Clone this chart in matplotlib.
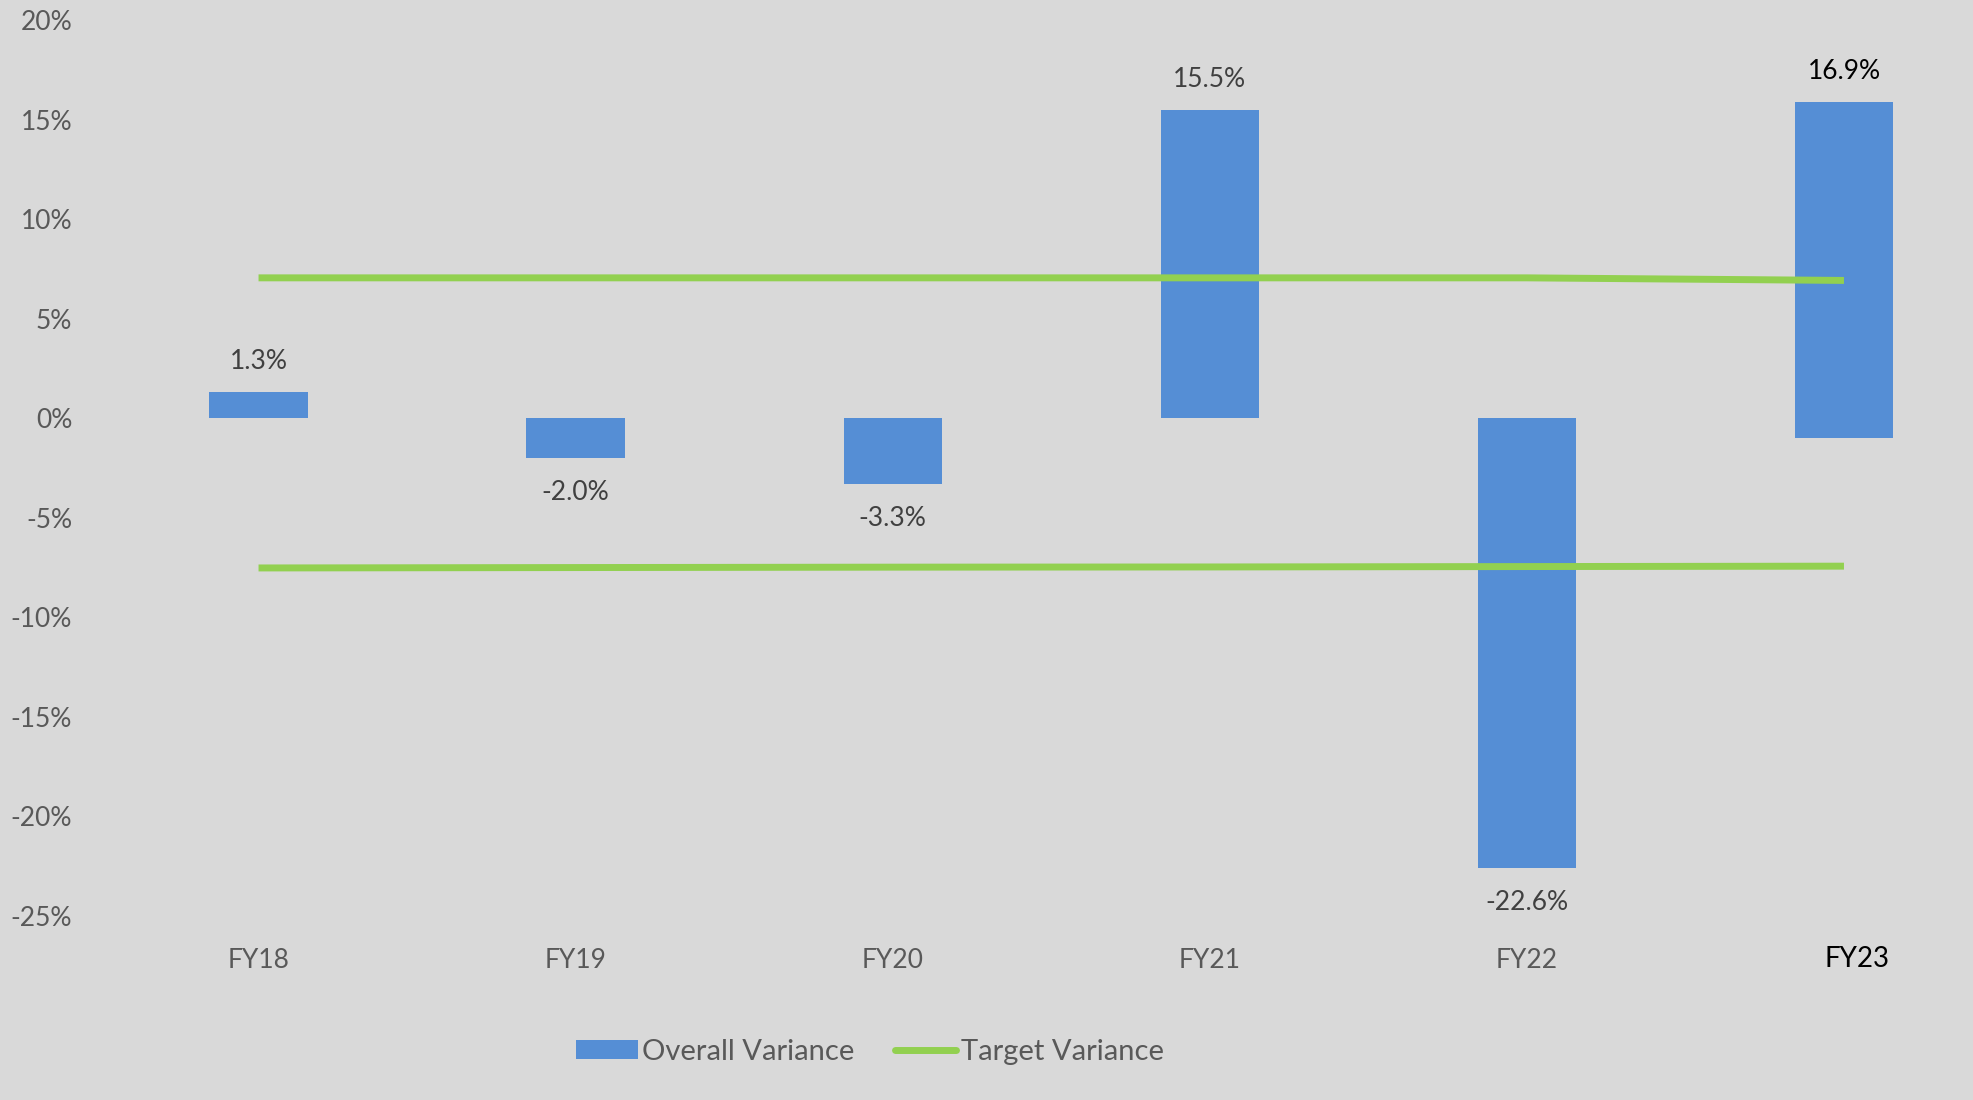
import matplotlib.pyplot as plt
from matplotlib.lines import Line2D
from matplotlib.patches import Patch
from matplotlib.transforms import ScaledTranslation

# data (percent)
YEARS = ["FY18", "FY19", "FY20", "FY21", "FY22", "FY23"]
OVERALL = [1.3, -2.0, -3.3, 15.5, -22.6, 16.9]
BAR_BASE = [0, 0, 0, 0, 0, -1.0]          # FY23 bar starts a bit below zero in the source
TARGET_UP = [7.05, 7.05, 7.05, 7.05, 7.05, 6.92]
TARGET_LOW = [-7.52, -7.5, -7.48, -7.47, -7.45, -7.43]
YTICKS = [20, 15, 10, 5, 0, -5, -10, -15, -20, -25]

BG = '#D9D9D9'
BLUE = '#558ED5'
GREEN = '#92D050'
GREY = '#595959'

plt.rcParams['font.family'] = ['Lato', 'DejaVu Sans']

fig = plt.figure(figsize=(19.73, 11), dpi=100, facecolor=BG)
ax = fig.add_axes([100/1973, 1 - 916/1100, 1 - 100/1973, (916 - 20)/1100])
ax.set_facecolor(BG)

x = list(range(len(YEARS)))
ax.bar(x, OVERALL, width=0.31, bottom=BAR_BASE, color=BLUE, zorder=2)
ax.plot(x, TARGET_UP, color=GREEN, lw=5, solid_capstyle='butt', zorder=3)
ax.plot(x, TARGET_LOW, color=GREEN, lw=5, solid_capstyle='butt', zorder=3)

for i, v in enumerate(OVERALL):
    top = BAR_BASE[i] + v
    col = 'black' if i == len(OVERALL) - 1 else '#404040'
    if v > 0:
        ax.annotate(f"{v:.1f}%", (i, top), xytext=(0, 22), textcoords='offset points',
                    ha='center', va='center', fontsize=19, color=col)
    else:
        ax.annotate(f"{v:.1f}%", (i, top), xytext=(0, -25), textcoords='offset points',
                    ha='center', va='center', fontsize=19, color=col)

ax.set_xlim(-0.5, (1973 - 259) / 317)
ax.set_ylim(-25, 20)
ax.set_yticks(YTICKS)
ax.set_yticklabels([f"{t}%" for t in YTICKS])
ax.set_xticks(x)
ax.set_xticklabels(YEARS)
ax.tick_params(axis='y', length=0, pad=20, labelsize=19, labelcolor=GREY)
ax.tick_params(axis='x', length=0, pad=23, labelsize=19, labelcolor=GREY)
for s in ax.spines.values():
    s.set_visible(False)

last = ax.get_xticklabels()[-1]
last.set_color('black')
last.set_fontsize(20)
last.set_transform(last.get_transform() + ScaledTranslation(0.13, 0.02, fig.dpi_scale_trans))

handles = [Patch(facecolor=BLUE, edgecolor='none'),
           Line2D([0], [0], color=GREEN, lw=5, solid_capstyle='round')]
fig.legend(handles, ["Overall Variance", "Target Variance"], loc='center',
           bbox_to_anchor=(870/1973, 1 - 1052/1100), ncol=2, frameon=False,
           fontsize=21, labelcolor=GREY, handlelength=2.1, handletextpad=0.15,
           columnspacing=1.4, handleheight=0.6)

fig.savefig("out.png", dpi=100, facecolor=BG)
